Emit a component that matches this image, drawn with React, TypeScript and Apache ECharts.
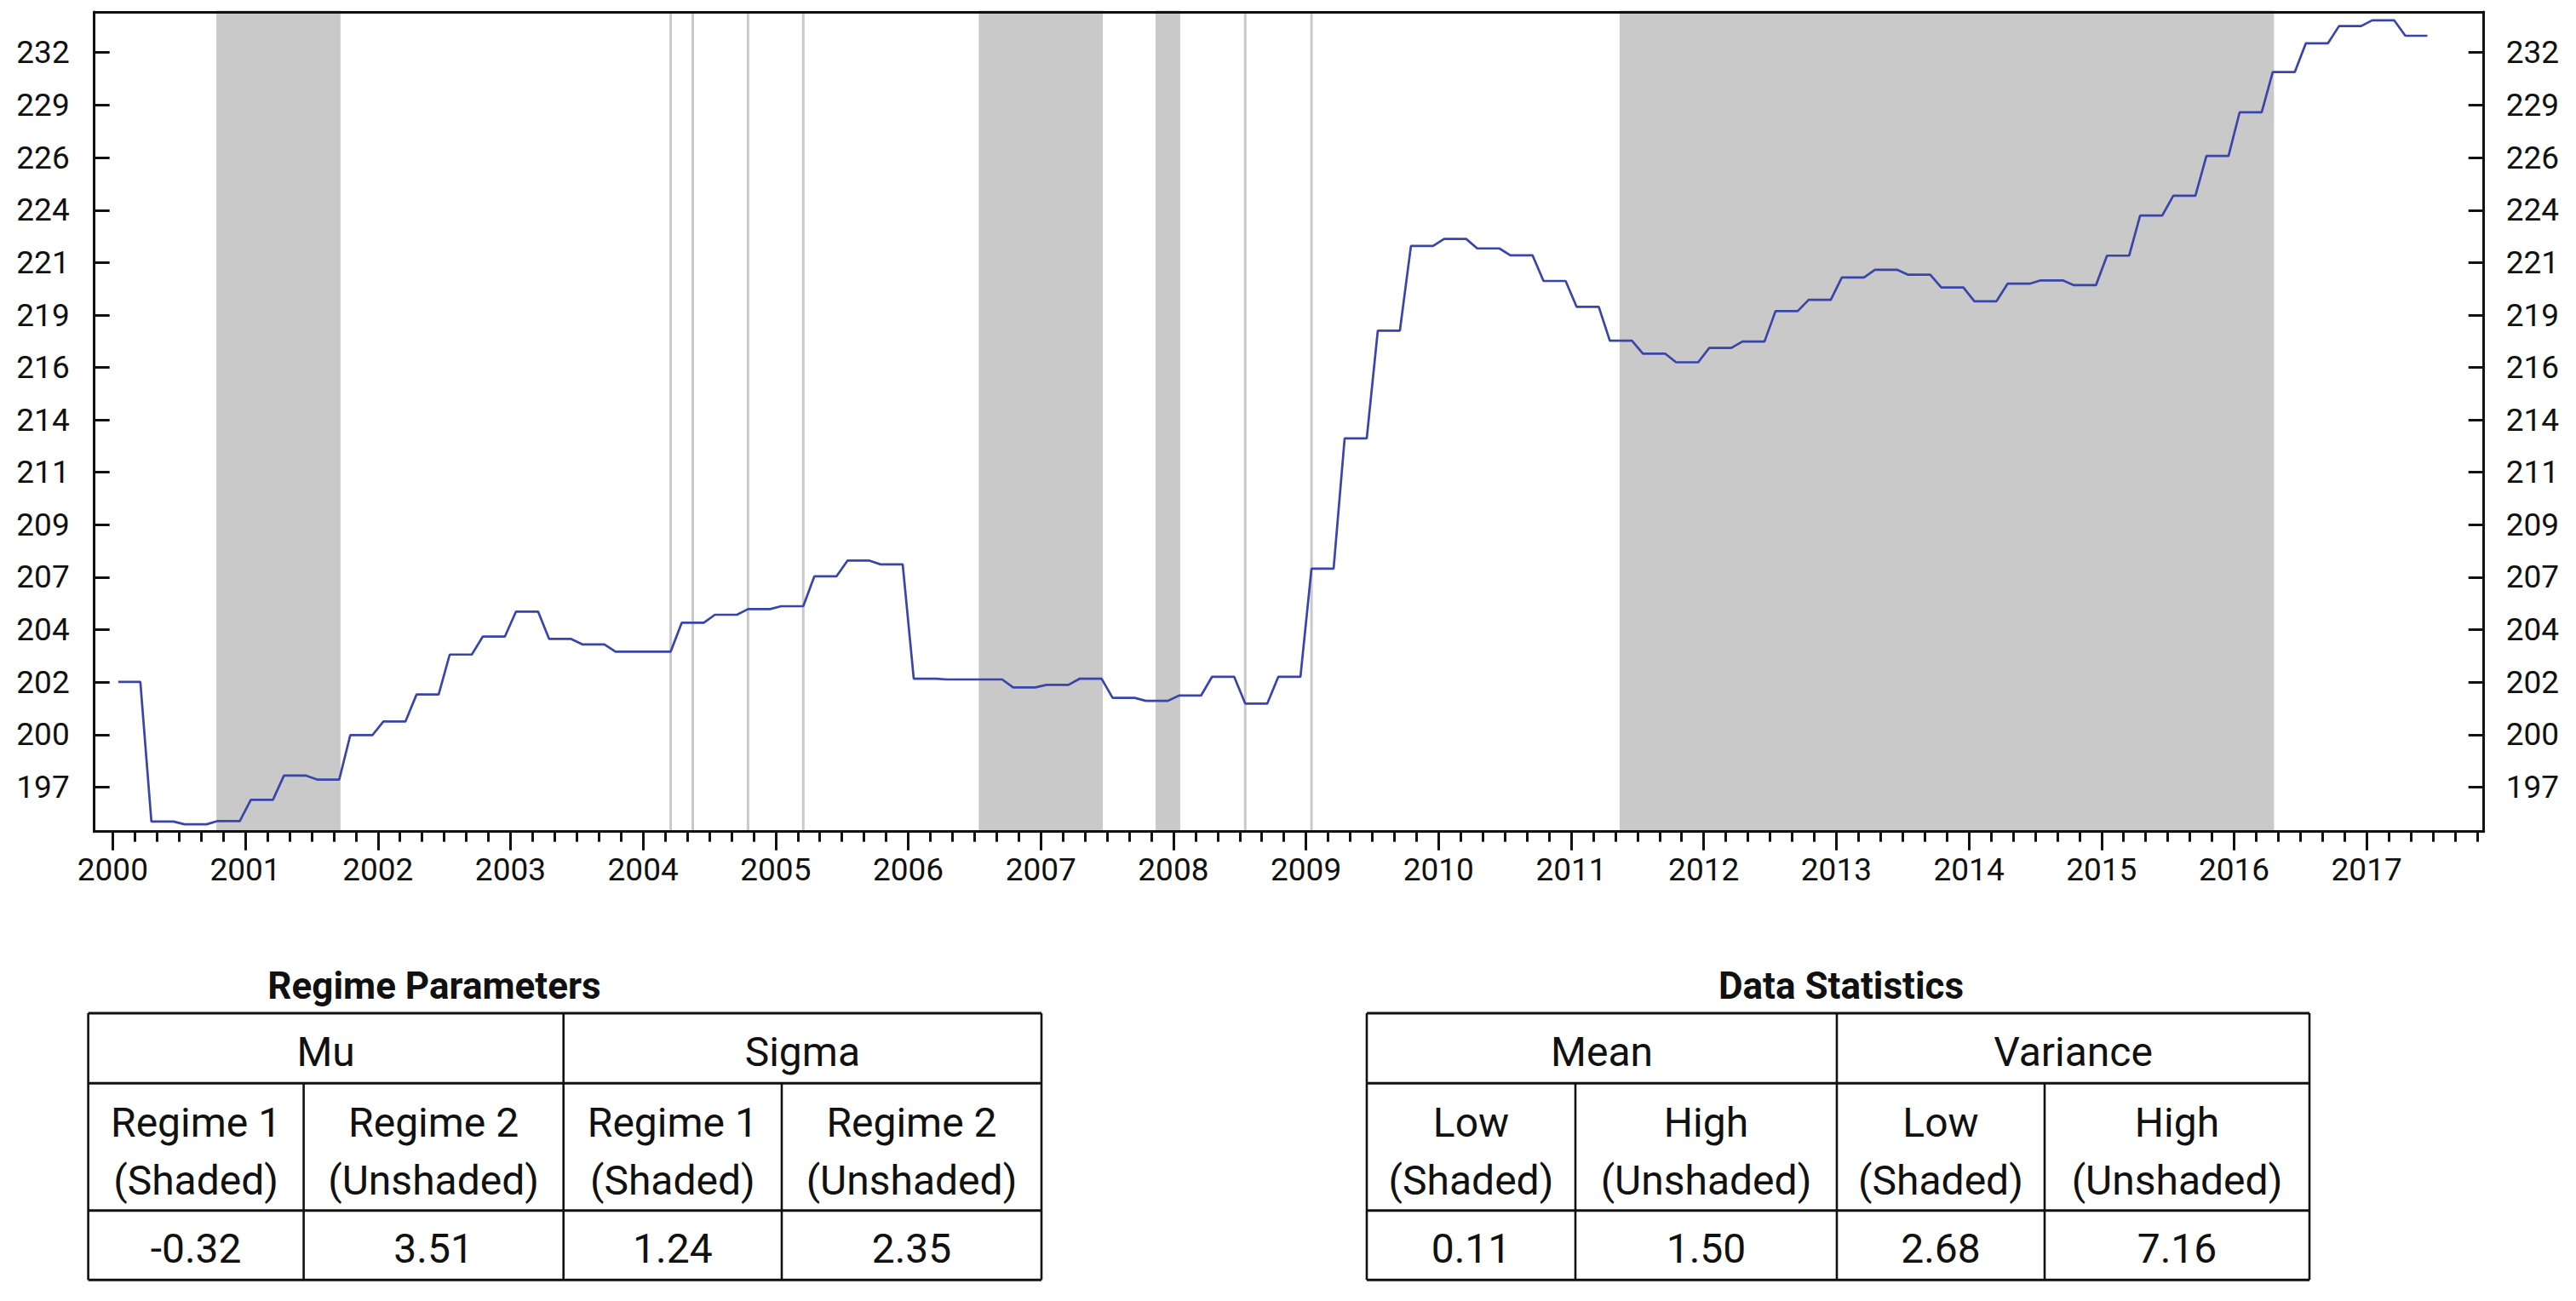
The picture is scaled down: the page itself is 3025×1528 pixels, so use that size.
import React, { useEffect, useRef } from 'react';
import * as echarts from 'echarts';

// ---------- data ----------
const FIRST_YEAR = 2000;
const YEAR_LABELS = ['2000', '2001', '2002', '2003', '2004', '2005', '2006', '2007', '2008',
  '2009', '2010', '2011', '2012', '2013', '2014', '2015', '2016', '2017'];

// Quarterly index values (each quarter shown as three equal monthly observations), 2000Q1 onwards
const INDEX_2000_2005 = [
  201.88, 195.83, 195.71, 195.85,
  196.76, 197.80, 197.63, 199.55,
  200.15, 201.33, 203.09, 203.89,
  205.00, 203.78, 203.54, 203.22,
  203.22, 204.50, 204.86, 205.11,
  205.24, 206.58, 207.29, 207.12,
];
const INDEX_2006_2011 = [
  202.02, 201.99, 201.99, 201.64,
  201.75, 202.02, 201.18, 201.05,
  201.28, 202.11, 200.93, 202.11,
  206.93, 212.89, 217.95, 222.01,
  222.35, 221.89, 221.56, 220.32,
  219.08, 217.47, 216.86, 216.45,
];
const INDEX_2012_2017 = [
  217.13, 217.43, 218.88, 219.42,
  220.49, 220.86, 220.62, 220.01,
  219.35, 220.19, 220.35, 220.12,
  221.54, 223.49, 224.45, 226.41,
  228.57, 230.59, 232.04, 232.91,
  233.20, 232.42,
];

// Regime 1 (shaded) periods, first and last month
const SHADED_PERIODS: [string, string][] = [
  ['2000-10', '2001-09'],
  ['2004-03', '2004-03'],
  ['2004-05', '2004-05'],
  ['2004-10', '2004-10'],
  ['2005-03', '2005-03'],
  ['2006-07', '2007-06'],
  ['2007-11', '2008-01'],
  ['2008-07', '2008-07'],
  ['2009-01', '2009-01'],
  ['2011-05', '2016-04'],
];

const Y_TICK_VALUES = [197.3, 199.57, 201.87, 204.19, 206.54, 208.91, 211.32, 213.75,
  216.21, 218.69, 221.21, 223.75, 226.33, 228.93, 231.57];
const Y_TICK_LABELS = ['197', '200', '202', '204', '207', '209', '211', '214',
  '216', '219', '221', '224', '226', '229', '232'];
const Y_MIN = 195.4;
const Y_MAX = 233.63;

const REGIME_TITLE = 'Regime Parameters';
const REGIME_GROUPS = ['Mu', 'Sigma'];
const REGIME_SUBHEADS = [['Regime 1', '(Shaded)'], ['Regime 2', '(Unshaded)'], ['Regime 1', '(Shaded)'], ['Regime 2', '(Unshaded)']];
const REGIME_VALUES = ['-0.32', '3.51', '1.24', '2.35'];

const STATS_TITLE = 'Data Statistics';
const STATS_GROUPS = ['Mean', 'Variance'];
const STATS_SUBHEADS = [['Low', '(Shaded)'], ['High', '(Unshaded)'], ['Low', '(Shaded)'], ['High', '(Unshaded)']];
const STATS_VALUES = ['0.11', '1.50', '2.68', '7.16'];

// ---------- helpers ----------
const monthIndex = (ym: string) => {
  const [y, m] = ym.split('-').map(Number);
  return (y - FIRST_YEAR) * 12 + (m - 1);
};

const W = 3025;
const H = 1528;
const FONT = 'Roboto';

function buildTable(
  cols: number[], rows: number[], title: string, titleX: number, titleY: number,
  groups: string[], subheads: string[][], values: string[],
) {
  const els: any[] = [];
  const [top, r1, r2, bottom] = rows;
  const lw = 3;
  const hline = (y: number) => els.push({ type: 'line', shape: { x1: cols[0], y1: y, x2: cols[4], y2: y }, style: { stroke: '#111', lineWidth: lw } });
  const vline = (x: number, y1: number, y2: number) => els.push({ type: 'line', shape: { x1: x, y1, x2: x, y2 }, style: { stroke: '#111', lineWidth: 2.6 } });
  [top, r1, r2, bottom].forEach(hline);
  vline(cols[0], top, bottom);
  vline(cols[2], top, bottom);
  vline(cols[4], top, bottom);
  vline(cols[1], r1, bottom);
  vline(cols[3], r1, bottom);
  const txt = (s: string, x: number, y: number, size: number, weight = 'normal') => els.push({
    type: 'text', x, y,
    style: { text: s, fill: '#111', fontSize: size, fontFamily: FONT, fontWeight: weight, align: 'center', verticalAlign: 'middle' },
  });
  txt(title, titleX, titleY, 44, 'bold');
  groups.forEach((g, i) => txt(g, (cols[2 * i] + cols[2 * i + 2]) / 2, (top + r1) / 2 + 4, 48));
  subheads.forEach((s, i) => {
    const cx = (cols[i] + cols[i + 1]) / 2;
    txt(s[0], cx, r1 + 46, 48);
    txt(s[1], cx, r1 + 114, 48);
  });
  values.forEach((v, i) => txt(v, (cols[i] + cols[i + 1]) / 2, (r2 + bottom) / 2 + 4, 48));
  return els;
}

export default function App() {
  const ref = useRef<HTMLDivElement>(null);

  useEffect(() => {
    document.body.style.margin = '0';
    if (!ref.current) return;
    const chart = echarts.init(ref.current, undefined, { renderer: 'svg', width: W, height: H });

    const quarterly = [...INDEX_2000_2005, ...INDEX_2006_2011, ...INDEX_2012_2017];
    const monthly: [number, number][] = [];
    quarterly.forEach((v, q) => {
      for (let k = 0; k < 3; k++) monthly.push([q * 3 + k, v]);
    });

    const X_MIN = -2.17;
    const X_MAX = 214.1;
    const yearTicks = YEAR_LABELS.map((_, i) => i * 12 - 0.5);
    const minorTicks: number[] = [];
    for (let i = 0; i * 2 - 0.5 < X_MAX; i++) minorTicks.push(i * 2 - 0.5);

    const bands = SHADED_PERIODS.map(([s, e]) => [{ xAxis: monthIndex(s) }, { xAxis: monthIndex(e) }]);

    const yLabel = (v: number) => {
      const i = Y_TICK_VALUES.findIndex((t) => Math.abs(t - v) < 0.05);
      return i >= 0 ? Y_TICK_LABELS[i] : '';
    };

    const axisLine = { show: true, onZero: false, lineStyle: { color: '#111', width: 3 } };
    const labelStyle = { color: '#111', fontSize: 37, fontFamily: FONT };

    const yAxisCommon = (position: 'left' | 'right', margin: number) => ({
      type: 'log',
      position,
      min: Y_MIN,
      max: Y_MAX,
      z: 10,
      axisLine,
      splitLine: { show: false },
      axisTick: { show: true, inside: true, length: 18, customValues: Y_TICK_VALUES, lineStyle: { color: '#111', width: 3 } },
      axisLabel: { show: true, customValues: Y_TICK_VALUES, formatter: yLabel, margin, ...labelStyle },
    });

    const option: any = {
      animation: false,
      backgroundColor: '#fff',
      grid: { left: 110.7, right: W - 2916.7, top: 14, bottom: H - 976.7, containLabel: false },
      xAxis: [
        {
          type: 'value', min: X_MIN, max: X_MAX, position: 'bottom', z: 10,
          axisLine,
          splitLine: { show: false },
          axisTick: { show: true, length: 22, customValues: yearTicks, lineStyle: { color: '#111', width: 3 } },
          axisLabel: {
            show: true, customValues: yearTicks, margin: 26,
            formatter: (v: number) => YEAR_LABELS[Math.round((v + 0.5) / 12)] ?? '',
            ...labelStyle,
          },
        },
        {
          type: 'value', min: X_MIN, max: X_MAX, position: 'bottom', z: 10,
          axisLine: { show: false, onZero: false },
          splitLine: { show: false },
          axisTick: { show: true, length: 12, customValues: minorTicks, lineStyle: { color: '#111', width: 3 } },
          axisLabel: { show: false },
        },
        {
          type: 'value', min: X_MIN, max: X_MAX, position: 'top', z: 10,
          axisLine,
          splitLine: { show: false },
          axisTick: { show: false },
          axisLabel: { show: false },
        },
      ],
      yAxis: [yAxisCommon('left', 29), yAxisCommon('right', 26)],
      series: [
        {
          type: 'line',
          name: 'Index',
          xAxisIndex: 0,
          yAxisIndex: 0,
          data: monthly,
          symbol: 'none',
          showSymbol: false,
          lineStyle: { color: '#3a45aa', width: 2.7 },
          itemStyle: { color: '#3a45aa' },
          z: 3,
          markArea: {
            silent: true,
            label: { show: false },
            itemStyle: { color: '#c9c9c9', borderColor: '#c9c9c9', borderWidth: 3 },
            data: bands,
          },
        },
      ],
      graphic: [
        ...buildTable([103.6, 356.6, 661.7, 918, 1223], [1190, 1272.3, 1421.7, 1503.3],
          REGIME_TITLE, 510, 1158, REGIME_GROUPS, REGIME_SUBHEADS, REGIME_VALUES),
        ...buildTable([1605, 1850, 2157, 2401, 2712], [1190, 1272.3, 1421.7, 1503.3],
          STATS_TITLE, 2162, 1158, STATS_GROUPS, STATS_SUBHEADS, STATS_VALUES),
      ],
    };

    chart.setOption(option);
    return () => chart.dispose();
  }, []);

  return <div ref={ref} style={{ width: W, height: H }} />;
}
